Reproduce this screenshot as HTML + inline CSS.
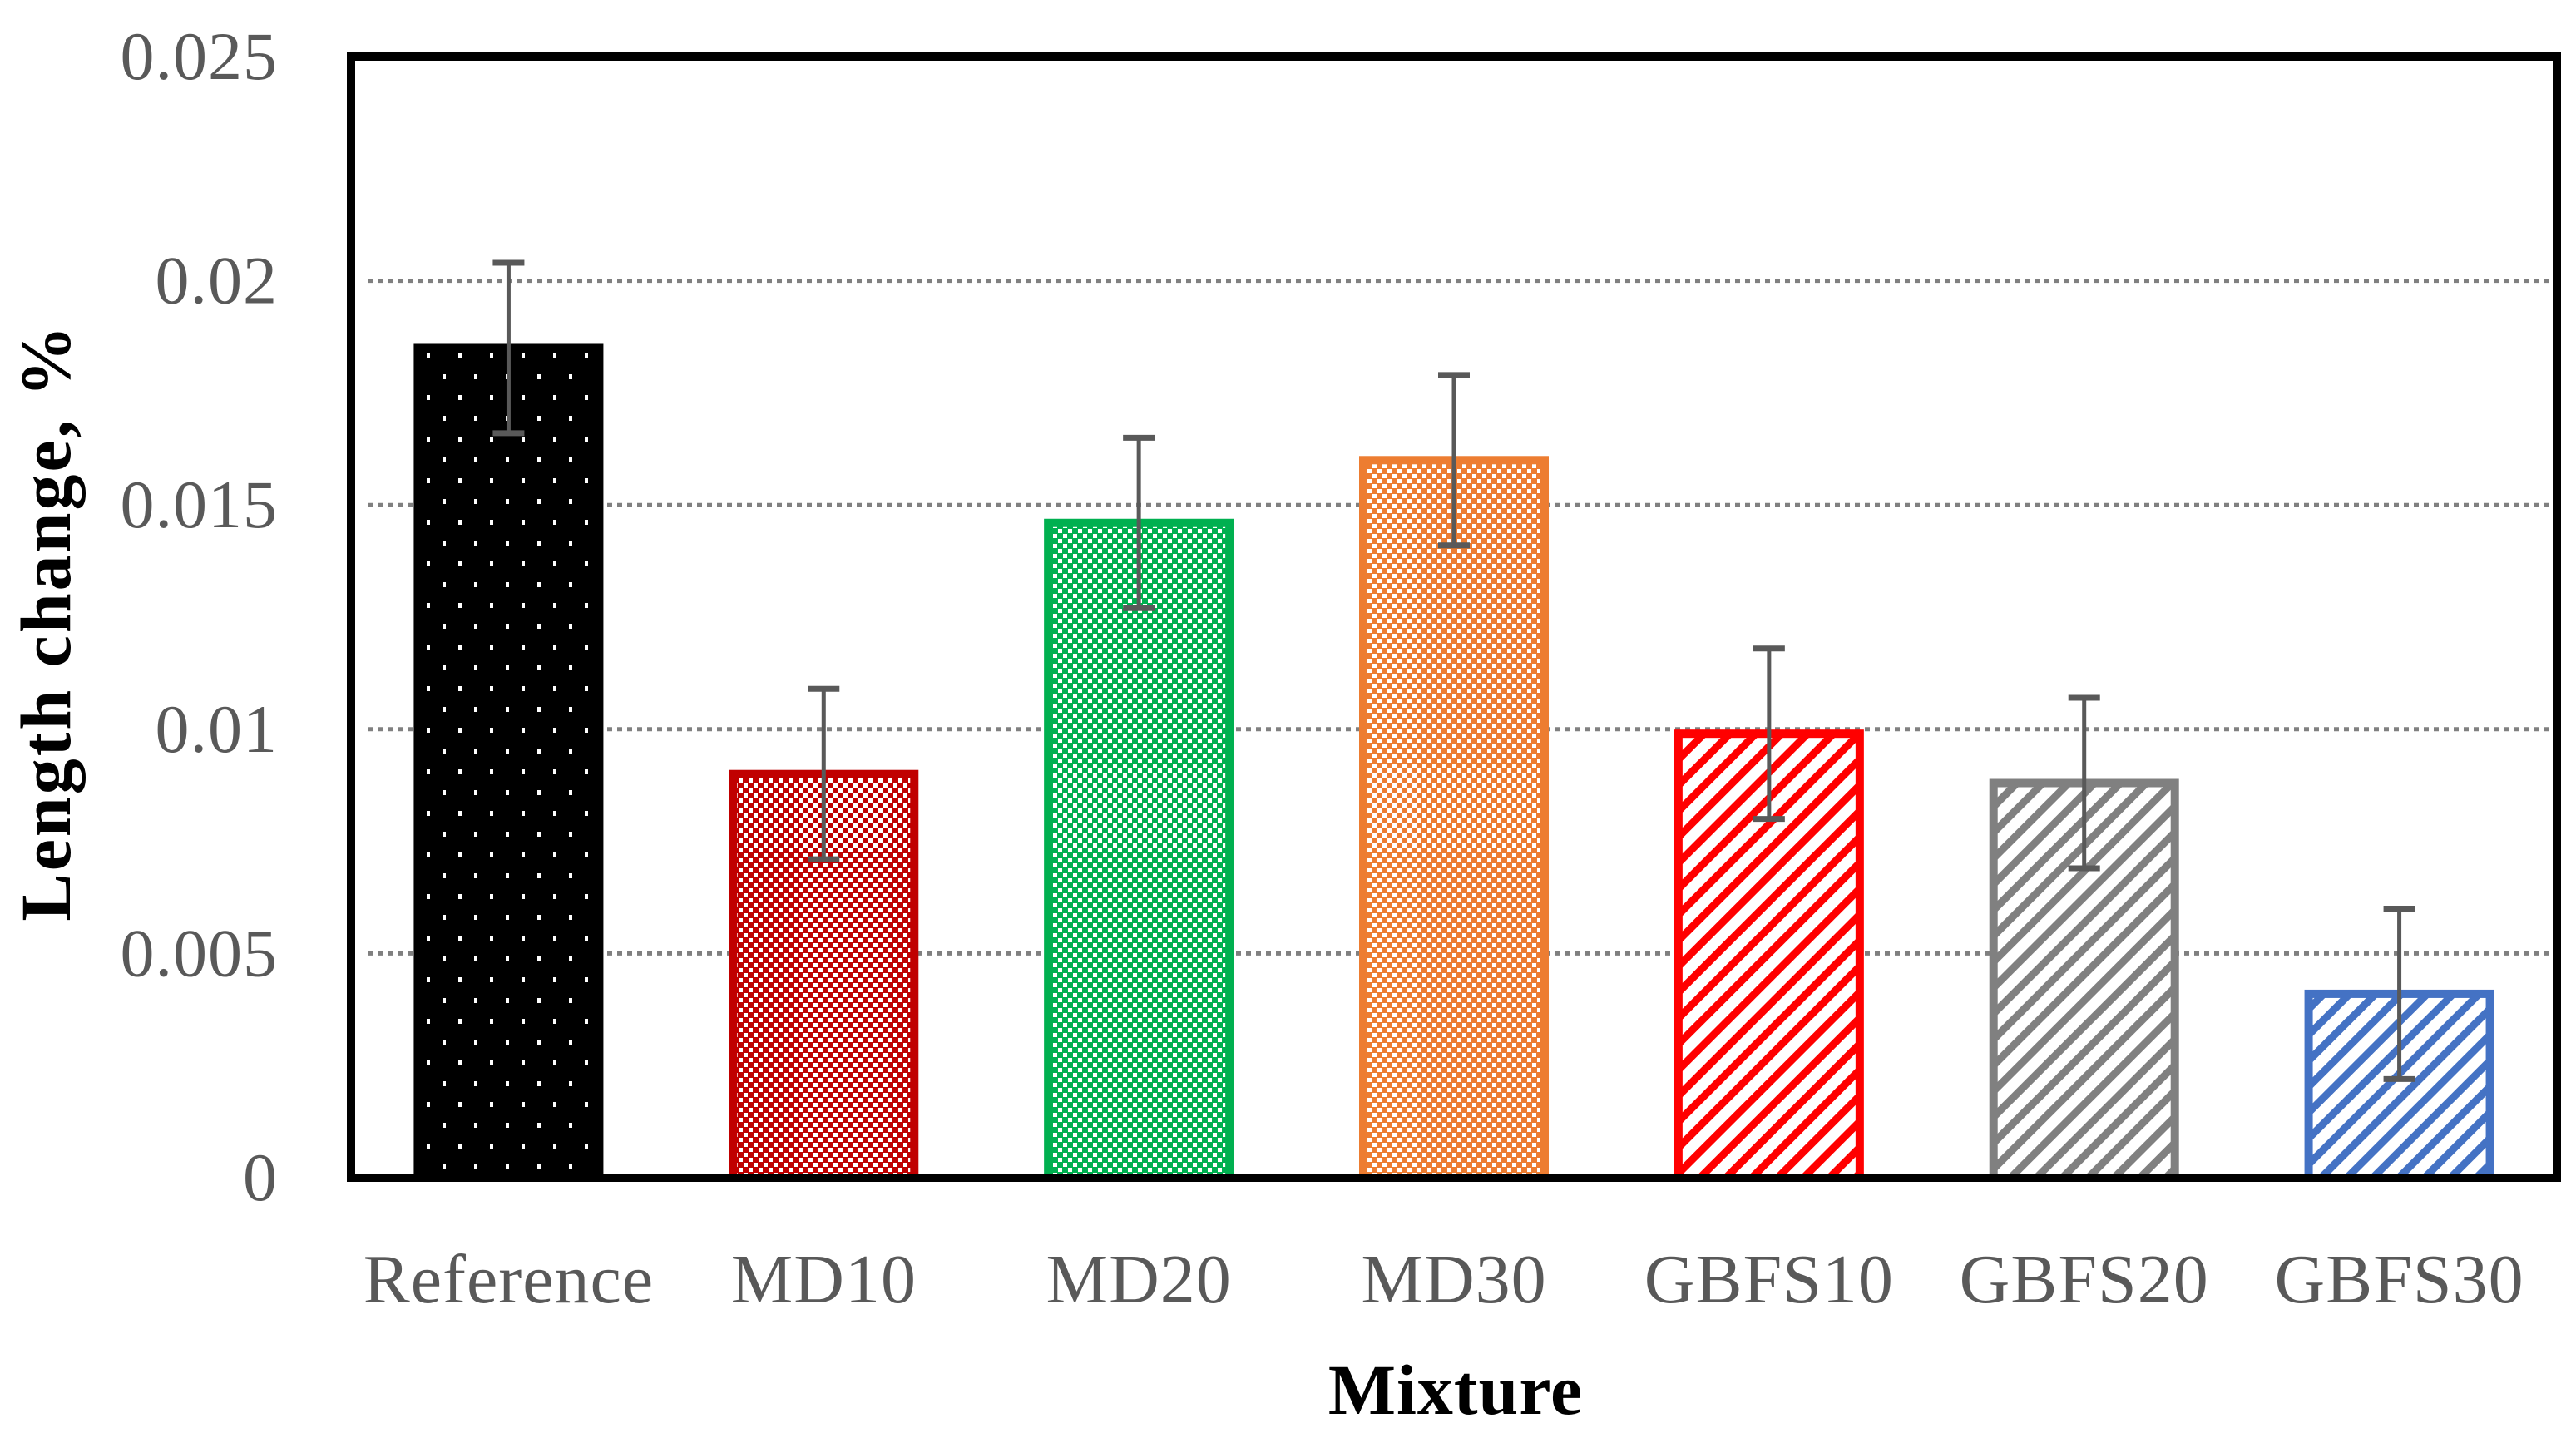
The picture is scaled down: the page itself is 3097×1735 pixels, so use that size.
<!DOCTYPE html>
<html><head><meta charset="utf-8"><style>
html,body{margin:0;padding:0;background:#fff;}
svg{display:block;}
</style></head><body>
<svg id="chart" width="3097" height="1735" viewBox="0 0 3097 1735" xmlns="http://www.w3.org/2000/svg">
<defs>
<pattern id="p-dots" width="38" height="50" patternUnits="userSpaceOnUse"><rect width="38" height="50" fill="#000"/><rect x="0" y="0" width="4" height="6" fill="#fff"/><rect x="19" y="25" width="4" height="6" fill="#fff"/></pattern>
<pattern id="p-red" width="12" height="12" patternUnits="userSpaceOnUse"><rect width="12" height="12" fill="#c00000"/><rect x="0" y="0" width="5" height="5" fill="#fff"/><rect x="6" y="6" width="5" height="5" fill="#fff"/></pattern>
<pattern id="p-green" width="12" height="12" patternUnits="userSpaceOnUse"><rect width="12" height="12" fill="#00b050"/><rect x="0" y="0" width="5" height="5" fill="#fff"/><rect x="6" y="6" width="5" height="5" fill="#fff"/></pattern>
<pattern id="p-orange" width="12" height="12" patternUnits="userSpaceOnUse"><rect width="12" height="12" fill="#ed7d31"/><rect x="0" y="0" width="5" height="5" fill="#fff"/><rect x="6" y="6" width="5" height="5" fill="#fff"/></pattern>
<pattern id="p-sred" width="22" height="22" patternUnits="userSpaceOnUse" patternTransform="rotate(45)"><rect width="22" height="22" fill="#fff"/><rect x="0" y="0" width="9" height="22" fill="#ff0000"/></pattern>
<pattern id="p-sgray" width="22" height="22" patternUnits="userSpaceOnUse" patternTransform="rotate(45)"><rect width="22" height="22" fill="#fff"/><rect x="0" y="0" width="9" height="22" fill="#808080"/></pattern>
<pattern id="p-sblue" width="22" height="22" patternUnits="userSpaceOnUse" patternTransform="rotate(45)"><rect width="22" height="22" fill="#fff"/><rect x="0" y="0" width="9" height="22" fill="#4472c4"/></pattern>
</defs>
<g id="grid"></g>
<g id="bars"></g>
<g id="errs"></g>
<rect x="422" y="68" width="2652" height="1348" fill="none" stroke="#000" stroke-width="10"/>
<g id="yticks"></g>
<g id="xticks"></g>
<text x="1750" y="1700" text-anchor="middle" font-family="Liberation Serif, serif" font-weight="bold" font-size="86" letter-spacing="1" fill="#000">Mixture</text>
<text transform="translate(84,748) rotate(-90)" text-anchor="middle" font-family="Liberation Serif, serif" font-weight="bold" font-size="86" letter-spacing="3" fill="#000">Length change, %</text>
</svg>
<script>
const categories = ["Reference","MD10","MD20","MD30","GBFS10","GBFS20","GBFS30"];
const values = [0.0185,0.0090,0.0146,0.0160,0.0099,0.0088,0.0041];
const errors = [0.0019,0.0019,0.0019,0.0019,0.0019,0.0019,0.0019];
const yTicks = [0,0.005,0.01,0.015,0.02,0.025];
const yTickLabels = ["0","0.005","0.01","0.015","0.02","0.025"];
const fills = ["url(#p-dots)","url(#p-red)","url(#p-green)","url(#p-orange)","url(#p-sred)","url(#p-sgray)","url(#p-sblue)"];
const strokes = ["#000","#c00000","#00b050","#ed7d31","#ff0000","#808080","#4472c4"];

const NS="http://www.w3.org/2000/svg";
const X0=422,X1=3074,Y0=1416,Y1=68,YMAX=0.025;
function y(v){return Y0-(v/YMAX)*(Y0-Y1);}
const band=(X1-X0)/categories.length;
function xc(i){return X0+band*(i+0.5);}
function mk(tag,attrs,parent){const e=document.createElementNS(NS,tag);for(const k in attrs)e.setAttribute(k,attrs[k]);parent.appendChild(e);return e;}
const grid=document.getElementById('grid'),bars=document.getElementById('bars'),errs=document.getElementById('errs'),yt=document.getElementById('yticks'),xt=document.getElementById('xticks');
yTicks.forEach((t,i)=>{
  if(t>0&&t<YMAX){
    const l=mk('line',{x1:X0+20,x2:X1,y1:y(t),y2:y(t),stroke:'#808080','stroke-width':5,'stroke-dasharray':'6 6'},grid);
    
    
  }
  const tx=mk('text',{x:334,y:y(t)+27,'text-anchor':'end','font-family':'Liberation Serif, serif','font-size':82,'letter-spacing':1,fill:'#595959'},yt);
  tx.textContent=yTickLabels[i];
  
  
});
const BW=218;
categories.forEach((c,i)=>{
  const cx=xc(i),top=y(values[i]);
  const r=mk('rect',{x:cx-BW/2,y:top,width:BW,height:Y0-top,fill:fills[i],stroke:strokes[i],'stroke-width':10},bars);
  
  
  const hi=y(values[i]+errors[i]),lo=y(values[i]-errors[i]);
  const g=mk('g',{stroke:'#595959','stroke-width':5},errs);
  
  
  mk('line',{x1:cx,x2:cx,y1:hi,y2:lo},g);
  mk('line',{x1:cx-19,x2:cx+19,y1:hi,y2:hi,'stroke-width':7},g);
  mk('line',{x1:cx-19,x2:cx+19,y1:lo,y2:lo,'stroke-width':7},g);
  const tx=mk('text',{x:cx,y:1566,'text-anchor':'middle','font-family':'Liberation Serif, serif','font-size':84,'letter-spacing':1,fill:'#595959'},xt);
  tx.textContent=c;
  
  
});
</script>
</body></html>
